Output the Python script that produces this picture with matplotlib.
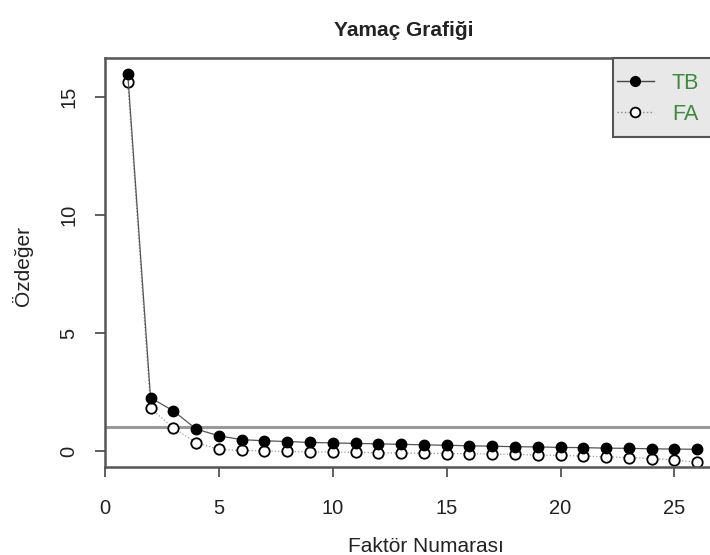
import matplotlib.pyplot as plt
from matplotlib.lines import Line2D
from matplotlib.patches import Rectangle
import numpy as np

plt.rcParams['font.family'] = ['Liberation Sans', 'DejaVu Sans']

# factor numbers and eigenvalues
factors = list(range(1, 27))
tb_values = [15.97, 2.25, 1.70, 0.93, 0.64, 0.48, 0.43, 0.40, 0.36, 0.34,
             0.32, 0.30, 0.28, 0.26, 0.24, 0.22, 0.20, 0.18, 0.17, 0.15,
             0.14, 0.12, 0.11, 0.09, 0.08, 0.07]
fa_values = [15.62, 1.80, 0.98, 0.35, 0.07, 0.02, 0.00, -0.02, -0.04, -0.05,
             -0.06, -0.08, -0.09, -0.10, -0.11, -0.12, -0.13, -0.15, -0.17, -0.19,
             -0.22, -0.25, -0.28, -0.32, -0.38, -0.48]
x_ticks = [0, 5, 10, 15, 20, 25]
y_ticks = [0, 5, 10, 15]
legend_labels = ["TB", "FA"]
cutoff = 1

W, H = 710, 555
fig = plt.figure(figsize=(7.1, 5.55), dpi=100)
ax = fig.add_axes([105 / W, 88 / H, 615 / W, 409 / H])

ax.axhline(cutoff, color="#9a9a9a", lw=2.2, zorder=1)
ax.plot(factors, tb_values, color="#555555", lw=0.9, ls="-",
        marker="o", ms=7.5, mfc="black", mec="black", zorder=3)
ax.plot(factors, fa_values, color="#999999", lw=0.9, ls=":",
        marker="o", ms=7.5, mfc="white", mec="black", mew=1.3, zorder=2)

ax.set_xlim(0, 27)
ax.set_ylim(-0.68, 16.65)
ax.set_xticks(x_ticks)
ax.set_yticks(y_ticks)
ax.tick_params(axis="both", direction="out", length=7, width=1.2,
               color="#444444", labelsize=14.5, labelcolor="#222222")
ax.tick_params(axis="x", pad=16)
ax.tick_params(axis="y", pad=12)
for lab in ax.get_yticklabels():
    lab.set_rotation(90)
    lab.set_va("center")

for s in ax.spines.values():
    s.set_color("#555555")
    s.set_linewidth(1.8)

fig.text(404 / W, 1 - 30 / H, "Yamaç Grafiği", ha="center", va="center",
         fontsize=15, fontweight="bold", color="#222222")
fig.text(426 / W, 1 - 546 / H, "Faktör Numarası", ha="center", va="center",
         fontsize=15, color="#222222")
fig.text(22 / W, 1 - 266 / H, "Özdeğer", ha="center", va="center",
         rotation=90, fontsize=15, color="#222222")

# legend box like R's legend("topright"), drawn separately so its padding matches
fig.patches.append(Rectangle((613 / W, 1 - 137 / H), 110 / W, 79 / H,
                             transform=fig.transFigure, facecolor="#e8e8e8",
                             edgecolor="#555555", lw=1.5, zorder=4))

handles = [
    Line2D([0], [0], color="#444444", lw=1.0, ls="-", marker="o", ms=7,
           mfc="black", mec="black"),
    Line2D([0], [0], color="#888888", lw=1.0, ls=":", marker="o", ms=7,
           mfc="white", mec="black", mew=1.3),
]
leg = fig.legend(handles, legend_labels, loc="upper left",
                 bbox_to_anchor=(617 / W, 1 - 73 / H),
                 bbox_transform=fig.transFigure, borderaxespad=0,
                 fontsize=15.5, frameon=False, borderpad=0,
                 handlelength=1.7, handletextpad=0.85, labelspacing=0.45)
leg.set_zorder(5)
for t in leg.get_texts():
    t.set_color("#3c8a3c")

fig.savefig("out.png", dpi=100)
